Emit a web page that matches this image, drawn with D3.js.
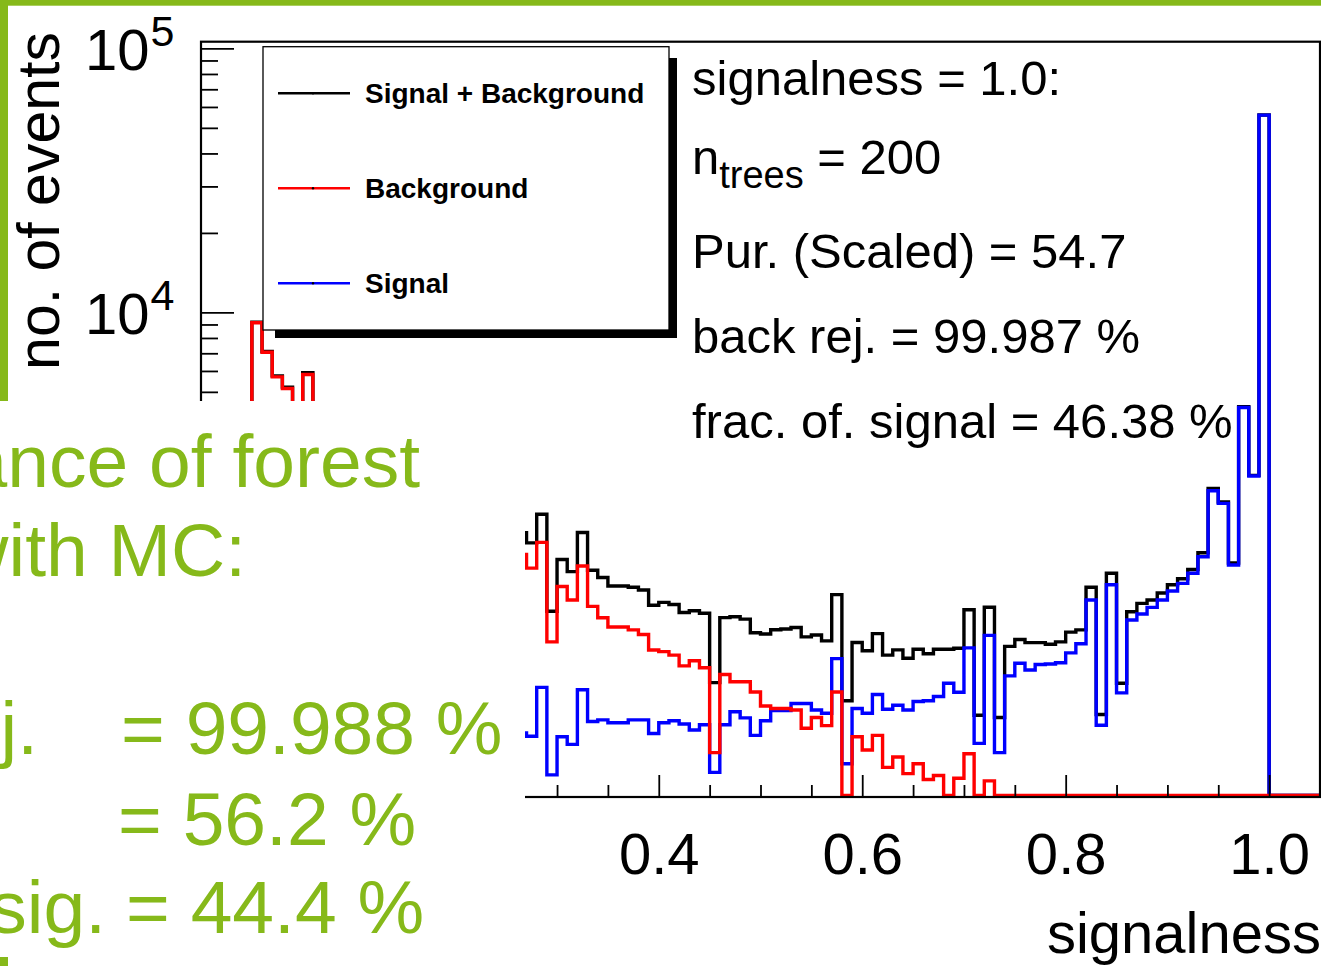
<!DOCTYPE html>
<html>
<head>
<meta charset="utf-8">
<script src="https://cdn.jsdelivr.net/npm/d3@7"></script>
<style>
  html, body { margin: 0; padding: 0; background: #fff; overflow: hidden; }
  svg { display: block; font-family: "Liberation Sans", Arial, Helvetica, sans-serif; }
</style>
</head>
<body>
<svg id="chart" width="1321" height="966"></svg>
<script>
// Histogram binning: 110 bins of width 0.01 starting at -0.05
const binStart = -0.05;
const binWidth = 0.01;

// Background events per bin (-0.05 ... 1.04)
const background = [
  0, 0, 0, 0, 0,
  9140, 7060, 5700, 5150, 4300, 5820, 4150, 3900, 3600, 3350,
  3150, 2950, 2800, 2600, 2450, 2350, 2200, 2080, 1950, 1850,
  1760, 1680, 1590, 1500, 1420, 1330, 1210, 1075, 1345, 565,
  915, 814, 1095, 770, 697, 643, 643, 627, 602, 526,
  519, 503, 458, 479, 451, 215, 425, 399, 399, 365,
  323, 316, 316, 312, 266, 292, 272, 365, 140, 247,
  220, 250, 189, 207, 179, 195, 170, 176, 136, 172,
  213, 65, 168, 77, 120, 108, 119, 97, 87, 94,
  102, 71, 96, 27, 98, 32, 51, 70, 51, 51,
  50, 40, 34, 42, 45, 22, 20, 25, 15, 30,
  0, 0, 0, 0, 0
];

// Signal events per bin
const signal = [
  0, 0, 0, 0, 0,
  40, 45, 50, 60, 70, 85, 95, 105, 115, 125,
  135, 145, 155, 165, 175, 185, 195, 205, 210, 215,
  225, 230, 235, 240, 245, 250, 255, 248, 380, 177,
  247, 231, 372, 282, 286, 279, 279, 286, 286, 254,
  279, 284, 276, 262, 274, 181, 274, 307, 291, 250,
  284, 310, 310, 330, 330, 312, 303, 488, 195, 316,
  303, 357, 314, 325, 312, 336, 338, 351, 394, 364,
  536, 233, 598, 215, 420, 469, 442, 464, 466, 471,
  513, 556, 814, 273, 930, 362, 684, 720, 763, 814,
  880, 941, 1028, 1187, 2110, 1890, 1104, 4365, 2399, 55870,
  0, 0, 0, 0, 0
];

// Signal + background events per bin
const signalPlusBackground = [
  0, 0, 0, 0, 0,
  9180, 7105, 5750, 5210, 4370, 5905, 4245, 4005, 3715, 3475,
  3285, 3095, 2955, 2765, 2625, 2535, 2395, 2285, 2160, 2065,
  1985, 1910, 1825, 1740, 1665, 1580, 1465, 1340, 1720, 738,
  1158, 1042, 1467, 1055, 990, 920, 920, 910, 888, 777,
  797, 783, 730, 741, 725, 396, 698, 703, 689, 612,
  605, 628, 632, 640, 590, 600, 570, 853, 338, 562,
  523, 607, 503, 527, 490, 530, 509, 530, 530, 534,
  748, 298, 764, 292, 543, 577, 561, 561, 553, 565,
  615, 627, 910, 300, 1028, 394, 735, 790, 814, 865,
  930, 980, 1062, 1229, 2155, 1912, 1124, 4390, 2414, 55900,
  0, 0, 0, 0, 0
];

const seriesNames = ["Signal + Background", "Background", "Signal"];
const seriesColors = ["#000000", "#ff0000", "#0000ff"];

// Axis ticks and labels
const xMajorTicks = [0.0, 0.2, 0.4, 0.6, 0.8, 1.0];
const xTickLabels = ["0.0", "0.2", "0.4", "0.6", "0.8", "1.0"];
const xMinorTicks = [-0.05, 0.05, 0.1, 0.15, 0.25, 0.3, 0.35, 0.45, 0.5, 0.55, 0.65, 0.7, 0.75, 0.85, 0.9, 0.95, 1.05];
const yDecades = [1e3, 1e4, 1e5];
const yDecadeExponents = ["3", "4", "5"];
const yMinorTicks = [200, 300, 400, 500, 600, 700, 800, 900,
                     2000, 3000, 4000, 5000, 6000, 7000, 8000, 9000,
                     20000, 30000, 40000, 50000, 60000, 70000, 80000, 90000];

const statsLines = ["signalness = 1.0:", "Pur. (Scaled) = 54.7", "back rej. = 99.987 %", "frac. of. signal = 46.38 %"];

const svg = d3.select("#chart");
const W = 1321, H = 966;
const green = "#86b91a";

const frame = { left: 201, right: 1320, top: 41.7, bottom: 797 };
const yMin = 146, yMax = 1.06e5;

const x = d3.scaleLinear().domain([-0.05, 1.05]).range([frame.left, frame.right]);
const y = d3.scaleLog().domain([yMin, yMax]).range([frame.bottom, frame.top]);
const floorY = frame.bottom - 1.5;

svg.append("rect").attr("width", W).attr("height", H).attr("fill", "#fff");

svg.append("defs").append("clipPath").attr("id", "frameClip")
  .append("rect")
  .attr("x", frame.left).attr("y", frame.top)
  .attr("width", frame.right - frame.left).attr("height", frame.bottom - frame.top);

// Step outline of one histogram
function stepPath(values) {
  const pts = values.map((v, i) => [binStart + i * binWidth, v]);
  pts.push([binStart + values.length * binWidth, values[values.length - 1]]);
  return d3.line()
    .curve(d3.curveStepAfter)
    .x(d => x(d[0]))
    .y(d => d[1] < yMin ? floorY : y(d[1]))(pts);
}

const hist = svg.append("g").attr("clip-path", "url(#frameClip)");
[[signalPlusBackground, seriesColors[0]], [signal, seriesColors[2]], [background, seriesColors[1]]]
  .forEach(([vals, col]) => {
    hist.append("path")
      .attr("d", stepPath(vals))
      .attr("fill", "none")
      .attr("stroke", col)
      .attr("stroke-width", 3.4)
      .attr("stroke-linejoin", "miter");
  });

// Frame
svg.append("rect")
  .attr("x", frame.left).attr("y", frame.top)
  .attr("width", frame.right - frame.left).attr("height", frame.bottom - frame.top)
  .attr("fill", "none").attr("stroke", "#000").attr("stroke-width", 2.2);

// X axis: ticks point into the frame
const xAxisMajor = d3.axisBottom(x)
  .tickValues(xMajorTicks)
  .tickFormat((d, i) => xTickLabels[i])
  .tickSize(-22).tickSizeOuter(0).tickPadding(36);
const gx = svg.append("g").attr("transform", `translate(0,${frame.bottom})`).call(xAxisMajor);
gx.select(".domain").remove();
gx.selectAll(".tick line").attr("stroke", "#000").attr("stroke-width", 1.8);
gx.selectAll(".tick text").attr("font-size", 58).attr("fill", "#000")
  .attr("font-family", "Liberation Sans, Arial, sans-serif");

const gxm = svg.append("g").attr("transform", `translate(0,${frame.bottom})`)
  .call(d3.axisBottom(x).tickValues(xMinorTicks).tickFormat("").tickSize(-12).tickSizeOuter(0));
gxm.select(".domain").remove();
gxm.selectAll(".tick line").attr("stroke", "#000").attr("stroke-width", 1.8);

// Y axis (log): ticks point into the frame
const gy = svg.append("g").attr("transform", `translate(${frame.left},0)`)
  .call(d3.axisLeft(y).tickValues(yDecades).tickFormat("").tickSize(-33).tickSizeOuter(0));
gy.select(".domain").remove();
gy.selectAll(".tick line").attr("stroke", "#000").attr("stroke-width", 1.8);

const gym = svg.append("g").attr("transform", `translate(${frame.left},0)`)
  .call(d3.axisLeft(y).tickValues(yMinorTicks).tickFormat("").tickSize(-17).tickSizeOuter(0));
gym.select(".domain").remove();
gym.selectAll(".tick line").attr("stroke", "#000").attr("stroke-width", 1.8);

// Decade labels 10^n
yDecades.forEach((v, i) => {
  const t = svg.append("text")
    .attr("x", 85).attr("y", y(v) + 22)
    .attr("font-size", 58).attr("fill", "#000");
  t.append("tspan").text("10");
  t.append("tspan").attr("font-size", 43).attr("dx", 1).attr("dy", -24).text(yDecadeExponents[i]);
});

// Axis titles
svg.append("text")
  .attr("transform", "translate(59,201) rotate(-90)")
  .attr("text-anchor", "middle")
  .attr("font-size", 59).attr("fill", "#000")
  .text("no. of events");

svg.append("text")
  .attr("x", 1321).attr("y", 953)
  .attr("text-anchor", "end")
  .attr("font-size", 58).attr("fill", "#000")
  .text("signalness");

// Legend with drop shadow
const leg = { x: 263, y: 46.7, w: 406, h: 283.3 };
svg.append("rect").attr("x", leg.x + leg.w).attr("y", 58).attr("width", 8).attr("height", leg.y + leg.h + 8 - 58).attr("fill", "#000");
svg.append("rect").attr("x", 275).attr("y", leg.y + leg.h).attr("width", leg.x + leg.w + 8 - 275).attr("height", 8).attr("fill", "#000");
svg.append("rect").attr("x", leg.x).attr("y", leg.y).attr("width", leg.w).attr("height", leg.h)
  .attr("fill", "#fff").attr("stroke", "#000").attr("stroke-width", 1.3);

const legendRowsY = [93.3, 188.3, 283.3];
seriesNames.forEach((name, i) => {
  const cy = legendRowsY[i];
  svg.append("line").attr("x1", 278).attr("x2", 350).attr("y1", cy).attr("y2", cy)
    .attr("stroke", seriesColors[i]).attr("stroke-width", 2.5);
  svg.append("circle").attr("cx", 313).attr("cy", cy).attr("r", 1.2).attr("fill", "#000");
  svg.append("text").attr("x", 365).attr("y", cy + 9.5)
    .attr("font-size", 28).attr("font-weight", "bold").attr("fill", "#000")
    .text(name);
});

// Statistics block
const statsX = 692;
const statsSize = 49;
svg.append("text").attr("x", statsX).attr("y", 95).attr("font-size", statsSize).attr("fill", "#000").text(statsLines[0]);
const nt = svg.append("text").attr("x", statsX).attr("y", 174).attr("font-size", statsSize).attr("fill", "#000");
nt.append("tspan").text("n");
nt.append("tspan").attr("font-size", 38).attr("dy", 14).text("trees");
nt.append("tspan").attr("dy", -14).text(" = 200");
svg.append("text").attr("x", statsX).attr("y", 268).attr("font-size", statsSize).attr("fill", "#000").text(statsLines[1]);
svg.append("text").attr("x", statsX).attr("y", 353).attr("font-size", statsSize).attr("fill", "#000").text(statsLines[2]);
svg.append("text").attr("x", statsX).attr("y", 438).attr("font-size", statsSize).attr("fill", "#000").text(statsLines[3]);

// Slide text box laid over the lower left of the plot
svg.append("rect").attr("x", 0).attr("y", 401).attr("width", 525).attr("height", H - 401).attr("fill", "#fff");

const slideText = svg.append("g").attr("fill", green).attr("font-size", 75);
slideText.append("text").attr("x", 420).attr("y", 487).attr("text-anchor", "end").text("Performance of forest");
slideText.append("text").attr("x", 246).attr("y", 576).attr("text-anchor", "end").text("with MC:");
slideText.append("text").attr("x", 38).attr("y", 754).attr("text-anchor", "end").text("back rej.");
slideText.append("text").attr("x", 121).attr("y", 754).text("= 99.988 %");
slideText.append("text").attr("x", 118).attr("y", 845).text("= 56.2 %");
slideText.append("text").attr("x", 106).attr("y", 933).attr("text-anchor", "end").text("frac. of sig.");
slideText.append("text").attr("x", 126).attr("y", 933).text("= 44.4 %");

// Slide border accents
svg.append("rect").attr("x", 0).attr("y", 0).attr("width", W).attr("height", 5.7).attr("fill", green);
svg.append("rect").attr("x", 0).attr("y", 0).attr("width", 8).attr("height", 401).attr("fill", green);
svg.append("rect").attr("x", 0).attr("y", 957).attr("width", 8).attr("height", 9).attr("fill", green);
</script>
</body>
</html>
